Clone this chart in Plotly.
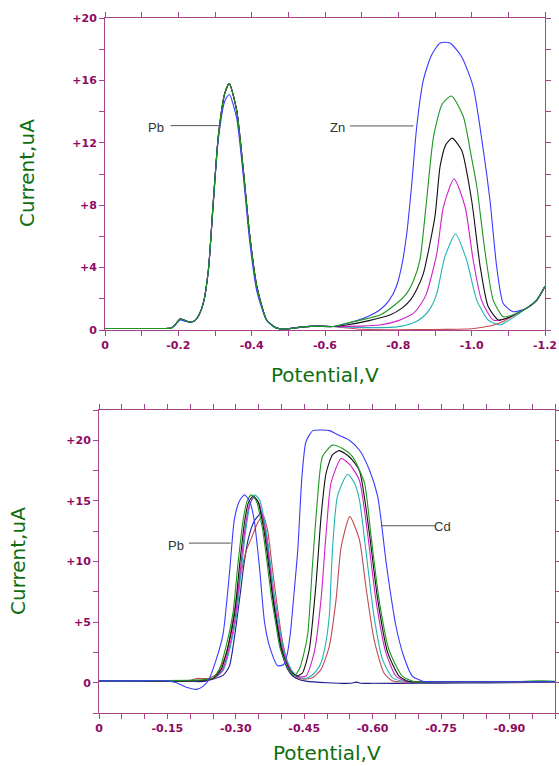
import plotly.graph_objects as go

# ---------------- TOP CHART (Pb / Zn) ----------------
top_pb_v = [0, -0.05, -0.10, -0.15, -0.18, -0.19, -0.205, -0.22, -0.232, -0.245, -0.256, -0.268,
            -0.282, -0.295, -0.309, -0.327, -0.339, -0.359, -0.377, -0.395, -0.414, -0.441,
            -0.468, -0.50, -0.54, -0.58]
top_pb_i = [0.1, 0.1, 0.1, 0.1, 0.12, 0.3, 0.7, 0.6, 0.5, 0.6, 0.95, 1.7,
            3.85, 8.1, 12.4, 15.2, 15.8, 14.1, 10.3, 6.0, 2.8, 0.64,
            0.12, 0.08, 0.2, 0.25]
top_pb_i_blue = [0.1, 0.1, 0.1, 0.1, 0.12, 0.3, 0.65, 0.55, 0.5, 0.6, 0.95, 1.7,
                 3.85, 8.0, 12.2, 14.7, 15.1, 13.6, 9.9, 5.6, 2.5, 0.6,
                 0.12, 0.08, 0.2, 0.25]

top_blue_v = [-0.62, -0.677, -0.72, -0.75, -0.775, -0.795, -0.81, -0.823, -0.836, -0.85, -0.868,
              -0.89, -0.914, -0.941, -0.973, -1.004, -1.032, -1.05, -1.068, -1.086, -1.113,
              -1.15, -1.177, -1.2]
top_blue_i = [0.22, 0.53, 0.9, 1.3, 1.9, 2.8, 4.2, 6.2, 9.2, 13.0, 16.0,
              17.6, 18.4, 18.4, 17.5, 15.6, 11.5, 8.3, 4.1, 1.7, 1.17,
              1.4, 1.9, 2.8]
top_green_v = [-0.62, -0.659, -0.70, -0.75, -0.79, -0.823, -0.842, -0.859, -0.877, -0.896, -0.92,
               -0.945, -0.977, -1.0, -1.014, -1.036, -1.059, -1.086, -1.11, -1.15, -1.177, -1.2]
top_green_i = [0.22, 0.43, 0.65, 0.96, 1.6, 2.35, 3.2, 4.5, 8.3, 12.4, 14.5,
               15.0, 13.7, 11.0, 9.2, 5.1, 1.9, 0.85, 0.95, 1.4, 1.9, 2.8]
top_black_v = [-0.62, -0.659, -0.72, -0.777, -0.81, -0.832, -0.85, -0.868, -0.9, -0.914, -0.93,
               -0.947, -0.973, -1.0, -1.023, -1.045, -1.073, -1.10, -1.15, -1.177, -1.2]
top_black_i = [0.22, 0.32, 0.6, 0.96, 1.4, 1.9, 2.6, 3.6, 7.3, 10.5, 11.9,
               12.3, 11.5, 8.3, 4.1, 1.5, 0.64, 0.8, 1.4, 1.9, 2.8]
top_magenta_v = [-0.62, -0.70, -0.75, -0.80, -0.841, -0.86, -0.877, -0.905, -0.923, -0.952, -0.982,
                 -1.004, -1.027, -1.059, -1.09, -1.15, -1.177, -1.2]
top_magenta_i = [0.22, 0.25, 0.32, 0.6, 1.07, 1.6, 2.35, 4.9, 7.9, 9.7, 7.9,
                 4.5, 1.9, 0.64, 0.7, 1.4, 1.9, 2.8]
top_cyan_v = [-0.62, -0.72, -0.795, -0.84, -0.868, -0.89, -0.905, -0.927, -0.956, -0.986, -1.014,
              -1.045, -1.077, -1.10, -1.15, -1.177, -1.2]
top_cyan_i = [0.22, 0.15, 0.2, 0.45, 0.85, 1.5, 2.35, 4.7, 6.15, 4.5, 1.9,
              0.64, 0.32, 0.6, 1.4, 1.9, 2.8]
top_red_v = [-0.62, -0.70, -0.80, -0.90, -0.96, -1.0, -1.03, -1.06, -1.09, -1.12, -1.15, -1.177, -1.2]
top_red_i = [0.22, 0.05, 0.02, 0.03, 0.05, 0.08, 0.18, 0.32, 0.6, 1.0, 1.4, 1.9, 2.8]

top_x_tickvals = [0, -0.1, -0.2, -0.3, -0.4, -0.5, -0.6, -0.7, -0.8, -0.9, -1.0, -1.1, -1.2]
top_x_ticktext = ["0", "", "-0.2", "", "-0.4", "", "-0.6", "", "-0.8", "", "-1.0", "", "-1.2"]
top_y_tickvals = [0, 2, 4, 6, 8, 10, 12, 14, 16, 18, 20]
top_y_ticktext = ["0", "", "+4", "", "+8", "", "+12", "", "+16", "", "+20"]

# ---------------- BOTTOM CHART (Pb / Cd) ----------------
bot_blue_v = [0, -0.05, -0.10, -0.15, -0.17, -0.19, -0.214, -0.228, -0.24, -0.257, -0.272, -0.286,
              -0.297, -0.308, -0.319, -0.33, -0.34, -0.352, -0.363, -0.374, -0.392, -0.405, -0.413,
              -0.42, -0.428, -0.436, -0.445, -0.454, -0.469, -0.49, -0.505, -0.527, -0.549, -0.571,
              -0.593, -0.611, -0.62, -0.629, -0.64, -0.651, -0.668, -0.687, -0.71, -0.75, -0.85,
              -0.95, -1.0]
bot_blue_i = [0.15, 0.15, 0.15, 0.15, 0.0, -0.35, -0.55, -0.3, 0.2, 1.9, 4.0, 9.0,
              13.5, 15.0, 15.5, 15.0, 13.5, 9.5, 5.0, 3.0, 1.4, 1.5, 2.4,
              4.2, 7.5, 11.0, 17.0, 19.9, 20.8, 20.85, 20.8, 20.4, 20.0, 19.2,
              17.55, 15.4, 13.0, 10.1, 7.2, 4.7, 2.2, 0.55, 0.12, 0.08, 0.08,
              0.08, 0.1]
bot_green_v = [0, -0.10, -0.20, -0.23, -0.25, -0.265, -0.28, -0.294, -0.305, -0.316, -0.325, -0.334,
               -0.345, -0.359, -0.37, -0.378, -0.388, -0.396, -0.407, -0.418, -0.429, -0.439, -0.448,
               -0.458, -0.468, -0.479, -0.49, -0.512, -0.535, -0.556, -0.582, -0.596, -0.614, -0.636,
               -0.665, -0.69, -0.75, -0.9, -0.97, -1.0]
bot_green_i = [0.15, 0.15, 0.2, 0.25, 0.4, 1.2, 3.2, 5.8, 9.9, 13.4, 15.0, 15.5,
               15.0, 12.6, 9.5, 7.1, 4.8, 3.0, 1.8, 1.0, 0.6, 1.1, 2.2,
               4.1, 9.6, 15.1, 18.65, 19.6, 19.3, 18.65, 16.5, 12.3, 6.9, 2.7,
               0.55, 0.1, 0.08, 0.08, 0.15, 0.12]
bot_black_v = [0, -0.10, -0.20, -0.23, -0.25, -0.268, -0.283, -0.297, -0.308, -0.319, -0.328, -0.338,
               -0.349, -0.362, -0.373, -0.381, -0.391, -0.399, -0.41, -0.421, -0.434, -0.446, -0.461,
               -0.476, -0.487, -0.498, -0.512, -0.527, -0.55, -0.571, -0.593, -0.611, -0.633, -0.658,
               -0.68, -0.75, -0.9, -1.0]
bot_black_i = [0.15, 0.12, 0.15, 0.2, 0.35, 1.1, 3.0, 5.6, 9.6, 13.2, 14.9, 15.4,
               14.9, 12.5, 9.4, 7.0, 4.7, 3.0, 1.7, 0.9, 0.55, 0.8, 2.7,
               8.2, 13.7, 17.3, 18.8, 19.15, 18.6, 17.5, 12.3, 6.9, 2.5, 0.55,
               0.1, 0.08, 0.08, 0.1]
bot_magenta_v = [0, -0.10, -0.20, -0.23, -0.25, -0.27, -0.285, -0.299, -0.31, -0.321, -0.33, -0.34,
                 -0.351, -0.364, -0.375, -0.383, -0.393, -0.401, -0.412, -0.423, -0.436, -0.454, -0.472,
                 -0.487, -0.498, -0.509, -0.531, -0.55, -0.571, -0.589, -0.607, -0.629, -0.651, -0.675,
                 -0.75, -0.9, -1.0]
bot_magenta_i = [0.15, 0.15, 0.15, 0.2, 0.3, 1.0, 2.8, 5.4, 9.3, 12.9, 14.7, 15.3,
                 14.8, 12.5, 9.4, 7.0, 4.7, 3.0, 1.7, 0.9, 0.5, 0.55, 2.5,
                 6.9, 12.3, 16.5, 18.5, 18.0, 16.7, 12.3, 6.9, 2.5, 0.55, 0.1,
                 0.08, 0.08, 0.1]
bot_cyan_v = [0, -0.10, -0.20, -0.23, -0.25, -0.272, -0.287, -0.301, -0.312, -0.323, -0.332, -0.342,
              -0.353, -0.366, -0.377, -0.385, -0.395, -0.403, -0.414, -0.425, -0.44, -0.452, -0.465,
              -0.477, -0.487, -0.497, -0.505, -0.512, -0.523, -0.545, -0.56, -0.571, -0.585, -0.603,
              -0.622, -0.644, -0.67, -0.75, -0.9, -1.0]
bot_cyan_i = [0.15, 0.15, 0.15, 0.2, 0.3, 1.0, 2.8, 5.4, 9.3, 12.9, 14.8, 15.5,
              15.0, 12.6, 9.5, 7.1, 4.8, 3.0, 1.7, 0.9, 0.45, 0.35, 0.55,
              1.0, 1.65, 3.2, 5.5, 11.0, 15.4, 17.2, 16.5, 15.1, 11.0, 5.5,
              1.9, 0.4, 0.1, 0.08, 0.08, 0.1]
bot_red_v = [0, -0.10, -0.20, -0.215, -0.24, -0.26, -0.28, -0.295, -0.31, -0.323, -0.335, -0.348,
             -0.36, -0.37, -0.38, -0.392, -0.403, -0.414, -0.425, -0.44, -0.455, -0.468, -0.487,
             -0.505, -0.52, -0.531, -0.55, -0.571, -0.585, -0.603, -0.625, -0.644, -0.67, -0.75,
             -0.9, -1.0]
bot_red_i = [0.15, 0.15, 0.2, 0.35, 0.35, 0.8, 2.5, 5.5, 8.8, 10.9, 12.0, 13.2,
             13.8, 12.5, 9.5, 6.0, 3.3, 1.6, 0.8, 0.35, 0.3, 0.4, 1.1,
             3.0, 6.9, 11.2, 13.7, 11.8, 8.0, 3.6, 0.8, 0.13, 0.05, 0.05,
             0.05, 0.08]
bot_navy_v = [0, -0.10, -0.20, -0.23, -0.25, -0.272, -0.286, -0.298, -0.309, -0.318, -0.327, -0.34,
              -0.356, -0.368, -0.381, -0.392, -0.403, -0.414, -0.425, -0.44, -0.454, -0.5, -0.55,
              -0.565, -0.575, -0.6, -0.7, -0.8, -0.9, -1.0]
bot_navy_i = [0.15, 0.1, 0.1, 0.1, 0.3, 0.6, 1.37, 4.0, 7.1, 9.8, 11.8, 13.3,
              14.0, 12.0, 7.1, 4.3, 2.2, 1.1, 0.55, 0.25, 0.13, 0.0, -0.05,
              0.05, -0.05, -0.05, -0.05, -0.02, 0.0, 0.05]

bot_x_tickvals = [0, -0.05, -0.10, -0.15, -0.20, -0.25, -0.30, -0.35, -0.40, -0.45, -0.50,
                  -0.55, -0.60, -0.65, -0.70, -0.75, -0.80, -0.85, -0.90, -0.95, -1.0]
bot_x_ticktext = ["0", "", "", "-0.15", "", "", "-0.30", "", "", "-0.45", "",
                  "", "-0.60", "", "", "-0.75", "", "", "-0.90", "", ""]
bot_y_tickvals = [-2.5, 0, 2.5, 5, 7.5, 10, 12.5, 15, 17.5, 20, 22.5]
bot_y_ticktext = ["", "0", "", "+5", "", "+10", "", "+15", "", "+20", ""]

# annotation labels (peak names)
labels_top = ["Pb", "Zn"]
labels_bot = ["Pb", "Cd"]

# ---------------- styles ----------------
C_BLUE = "#3A3AFF"
C_GREEN = "#1E961E"
C_BLACK = "#111111"
C_MAGENTA = "#CC22CC"
C_CYAN = "#22B4B4"
C_RED = "#C24A52"
C_NAVY = "#1C1C8C"
AXIS_C = "#A8448C"
TICK_TXT = "#8E0A62"
TITLE_C = "#0E6E0E"

fig = go.Figure()

def add(xs, ys, color, xa, ya):
    fig.add_trace(go.Scatter(x=xs, y=ys, mode="lines", xaxis=xa, yaxis=ya,
                             line=dict(color=color, width=1.1, shape="spline", smoothing=0.6),
                             showlegend=False, hoverinfo="skip"))

# top chart
add(top_pb_v + top_red_v, top_pb_i + top_red_i, C_RED, "x", "y")
add(top_pb_v + top_cyan_v, top_pb_i + top_cyan_i, C_CYAN, "x", "y")
add(top_pb_v + top_magenta_v, top_pb_i + top_magenta_i, C_MAGENTA, "x", "y")
add(top_pb_v + top_black_v, top_pb_i + top_black_i, C_BLACK, "x", "y")
add(top_pb_v + top_blue_v, top_pb_i_blue + top_blue_i, C_BLUE, "x", "y")
add(top_pb_v + top_green_v, top_pb_i + top_green_i, C_GREEN, "x", "y")

# bottom chart
add(bot_navy_v, bot_navy_i, C_NAVY, "x2", "y2")
add(bot_red_v, bot_red_i, C_RED, "x2", "y2")
add(bot_cyan_v, bot_cyan_i, C_CYAN, "x2", "y2")
add(bot_magenta_v, bot_magenta_i, C_MAGENTA, "x2", "y2")
add(bot_black_v, bot_black_i, C_BLACK, "x2", "y2")
add(bot_green_v, bot_green_i, C_GREEN, "x2", "y2")
add(bot_blue_v, bot_blue_i, C_BLUE, "x2", "y2")

tickfont = dict(family="DejaVu Sans", size=11, color=TICK_TXT, weight="bold")

def axis_common():
    return dict(showline=True, linecolor=AXIS_C, linewidth=1, mirror="allticks",
                ticks="outside", ticklen=5, tickcolor=AXIS_C, tickwidth=1, automargin=False,
                showgrid=False, zeroline=False, tickfont=tickfont, tickmode="array")

W, H = 559, 766
fig.update_layout(
    width=W, height=H,
    margin=dict(l=0, r=0, t=0, b=0, autoexpand=False),
    paper_bgcolor="white", plot_bgcolor="white",
    xaxis=dict(domain=[105 / W, 545 / W], range=[0, -1.2], anchor="y",
               tickvals=top_x_tickvals, ticktext=top_x_ticktext, **axis_common()),
    yaxis=dict(domain=[1 - 330 / H, 1 - 18 / H], range=[0, 20], anchor="x",
               tickvals=top_y_tickvals, ticktext=top_y_ticktext, **axis_common()),
    xaxis2=dict(domain=[99 / W, 555 / W], range=[0, -1.0], anchor="y2",
                tickvals=bot_x_tickvals, ticktext=bot_x_ticktext, **axis_common()),
    yaxis2=dict(domain=[1 - 713 / H, 1 - 410 / H], range=[-2.5, 22.5], anchor="x2",
                tickvals=bot_y_tickvals, ticktext=bot_y_ticktext, **axis_common()),
)

title_font = dict(family="DejaVu Sans", size=20, color=TITLE_C)
# axis titles
fig.add_annotation(text="Potential,V", xref="paper", yref="paper", x=325 / W, y=1 - 375 / H,
                   showarrow=False, font=title_font, xanchor="center", yanchor="middle")
fig.add_annotation(text="Current,uA", xref="paper", yref="paper", x=27 / W, y=1 - 173 / H,
                   showarrow=False, font=title_font, textangle=-90, xanchor="center", yanchor="middle")
fig.add_annotation(text="Potential,V", xref="paper", yref="paper", x=327 / W, y=1 - 753 / H,
                   showarrow=False, font=title_font, xanchor="center", yanchor="middle")
fig.add_annotation(text="Current,uA", xref="paper", yref="paper", x=18 / W, y=1 - 561 / H,
                   showarrow=False, font=title_font, textangle=-90, xanchor="center", yanchor="middle")

# peak labels with leader lines (data coordinates)
lab_font = dict(family="Liberation Sans", size=13, color="#333333")
LEAD_C = "#555555"
fig.add_annotation(text=labels_top[0], x=-0.139, y=13.0, xref="x", yref="y", showarrow=False,
                   font=lab_font, xanchor="center", yanchor="middle")
fig.add_shape(type="line", x0=-0.179, x1=-0.3155, y0=13.1, y1=13.1, xref="x", yref="y",
              line=dict(color=LEAD_C, width=1))
fig.add_annotation(text=labels_top[1], x=-0.634, y=12.95, xref="x", yref="y", showarrow=False,
                   font=lab_font, xanchor="center", yanchor="middle")
fig.add_shape(type="line", x0=-0.668, x1=-0.841, y0=13.08, y1=13.08, xref="x", yref="y",
              line=dict(color=LEAD_C, width=1))
fig.add_annotation(text=labels_bot[0], x=-0.168, y=11.3, xref="x2", yref="y2", showarrow=False,
                   font=lab_font, xanchor="center", yanchor="middle")
fig.add_shape(type="line", x0=-0.197, x1=-0.289, y0=11.52, y1=11.52, xref="x2", yref="y2",
              line=dict(color=LEAD_C, width=1))
fig.add_annotation(text=labels_bot[1], x=-0.754, y=12.9, xref="x2", yref="y2", showarrow=False,
                   font=lab_font, xanchor="center", yanchor="middle")
fig.add_shape(type="line", x0=-0.618, x1=-0.737, y0=12.95, y1=12.95, xref="x2", yref="y2",
              line=dict(color=LEAD_C, width=1))

fig.write_html("out.html", config={"displayModeBar": False},
               post_script="document.body.style.margin='0';document.body.style.overflow='hidden';")
